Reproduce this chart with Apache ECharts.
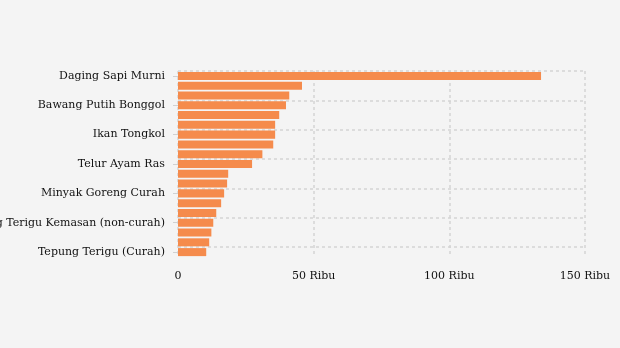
<!DOCTYPE html>
<html>
<head>
<meta charset="utf-8">
<script src="https://cdn.jsdelivr.net/npm/echarts@6/dist/echarts.min.js"></script>
<style>
html,body{margin:0;padding:0;background:#f4f4f4;}
#chart{width:620px;height:348px;}
</style>
</head>
<body>
<div id="chart"></div>
<script>
const categories = [
  "Daging Sapi Murni",
  "Cabai Rawit Merah",
  "Bawang Merah",
  "Bawang Putih Bonggol",
  "Ikan Kembung",
  "Daging Ayam Ras",
  "Ikan Tongkol",
  "Cabai Merah Keriting",
  "Ikan Bandeng",
  "Telur Ayam Ras",
  "Gula Konsumsi",
  "Minyak Goreng Kemasan Sederhana",
  "Minyak Goreng Curah",
  "Beras Premium",
  "Beras Medium",
  "Tepung Terigu Kemasan (non-curah)",
  "Kedelai Biji Kering (Impor)",
  "Garam Konsumsi",
  "Tepung Terigu (Curah)"
];
const values = [133800, 45700, 41000, 39800, 37300, 35800, 35800, 35100, 31100, 27300, 18500, 18100, 17000, 15900, 14100, 13000, 12300, 11500, 10400];
const xTicks = [0, 50000, 100000, 150000];

const chart = echarts.init(document.getElementById('chart'));
const font = 'DejaVu Serif';
chart.setOption({
  backgroundColor: '#f4f4f4',
  animation: false,
  grid: {left: 178, right: 35, top: 71, bottom: 91, containLabel: false, outerBoundsMode: 'none'},
  xAxis: {
    type: 'value', min: xTicks[0], max: xTicks[xTicks.length - 1], interval: xTicks[1] - xTicks[0],
    axisLine: {show: false}, axisTick: {show: false},
    axisLabel: {
      fontFamily: font, fontSize: 11, color: '#111', margin: 14,
      formatter: v => v === 0 ? '0' : (v / 1000) + ' Ribu'
    },
    splitLine: {show: true, lineStyle: {color: '#d4d4d4', type: [3, 3], width: 1.5}}
  },
  yAxis: {
    type: 'category', data: categories, inverse: true,
    axisLine: {show: false},
    axisTick: {show: true, alignWithLabel: true, interval: 2, length: 5, lineStyle: {color: '#d0d0d0'}},
    axisLabel: {interval: 2, fontFamily: font, fontSize: 11, color: '#111', margin: 13},
    splitLine: {show: true, interval: 2, showMaxLine: false, lineStyle: {color: '#d4d4d4', type: [3, 3], width: 1.5}}
  },
  series: [{
    type: 'bar', data: values, barCategoryGap: '18%',
    itemStyle: {color: '#f58b4c'}
  }]
});
</script>
</body>
</html>
